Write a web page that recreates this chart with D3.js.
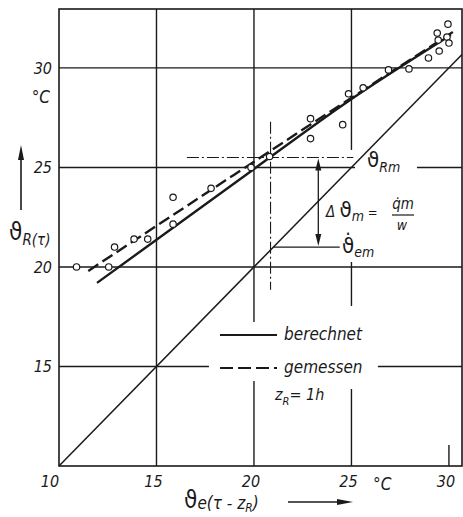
<!DOCTYPE html>
<html>
<head>
<meta charset="utf-8">
<script src="https://cdn.jsdelivr.net/npm/d3@7"></script>
<style>
  body { margin: 0; background: #fff; }
  svg { display: block; }
  text { font-family: "DejaVu Sans Condensed", "Liberation Sans Narrow", sans-serif; font-style: italic; fill: #1a1a1a; }
</style>
</head>
<body>
<svg id="chart" width="463" height="517"></svg>
<script>
// DATA
const xTicks = [10, 15, 20, 25, 30];
const yTicks = [15, 20, 25, 30];

// measured points (gemessen)
const measX = [10.9, 12.55, 12.85, 13.85, 14.55, 15.85, 15.85, 17.8, 19.85, 20.8, 22.9, 22.9, 24.55, 24.85, 25.6, 26.9, 27.95, 28.95, 29.5, 29.4, 29.45, 29.9, 30.0, 29.95];
const measY = [20.0, 20.0, 21.0, 21.4, 21.4, 23.5, 22.15, 23.95, 25.0, 25.55, 26.45, 27.45, 27.15, 28.7, 29.0, 29.9, 29.95, 30.5, 30.85, 31.75, 31.4, 31.55, 31.25, 32.2];

// computed line (berechnet)
const calcX = [11.95, 19.9, 24.8, 30.1];
const calcY = [19.2, 24.85, 28.3, 31.65];

// measured trend line (gemessen)
const fitX = [11.5, 18, 25, 30.2];
const fitY = [19.8, 24.0, 28.5, 31.8];

// construction for the mean values
const thetaRm = 25.5;
const thetaEm = 21.0;
const tauX = 20.85;
const arrowX = 23.3;

const canvas = d3.select("#chart");

const x = d3.scaleLinear().domain([10, 30.67]).range([59, 462]);
const y = d3.scaleLinear().domain([10, 32.96]).range([466, 9]);

const ink = "#1a1a1a";

// GRID (with the gaps of the original drawing)
const g = canvas.append("g").attr("stroke", ink).attr("fill", "none");

const vGrid = [
  { v: 15, parts: [[10, 32.96]] },
  { v: 20, parts: [[10, 14.27], [17.24, 32.96]] },
  { v: 25, parts: [[10, 13.87], [18.04, 20.25], [25.88, 32.96]] },
  { v: 30, parts: [[10, 11.05]] },
];
const hGrid = [
  { v: 15, parts: [[10, 17.69], [26.36, 30.67]] },
  { v: 20, parts: [[10, 30.67]] },
  { v: 25, parts: [[10, 25.18], [28.36, 30.67]] },
  { v: 30, parts: [[10, 30.67]] },
];

vGrid.forEach((d) =>
  d.parts.forEach((p) =>
    g.append("line")
      .attr("x1", x(d.v)).attr("x2", x(d.v))
      .attr("y1", y(p[0])).attr("y2", y(p[1]))
      .attr("stroke-width", 1.4)
  )
);
hGrid.forEach((d) =>
  d.parts.forEach((p) =>
    g.append("line")
      .attr("y1", y(d.v)).attr("y2", y(d.v))
      .attr("x1", x(p[0])).attr("x2", x(p[1]))
      .attr("stroke-width", 1.4)
  )
);

// frame
g.append("rect")
  .attr("x", x(10)).attr("y", y(32.96))
  .attr("width", x(30.67) - x(10)).attr("height", y(10) - y(32.96))
  .attr("stroke-width", 1.6);

// diagonal
g.append("line")
  .attr("x1", x(10)).attr("y1", y(10))
  .attr("x2", x(30.67)).attr("y2", y(30.67))
  .attr("stroke-width", 1.5);

// CURVES
const line = d3.line().x((d) => x(d[0])).y((d) => y(d[1])).curve(d3.curveMonotoneX);

g.append("path")
  .attr("d", line(d3.zip(calcX, calcY)))
  .attr("stroke-width", 2.4);

g.append("path")
  .attr("d", line(d3.zip(fitX, fitY)))
  .attr("stroke-width", 2.4)
  .attr("stroke-dasharray", "12,5");

// construction lines
g.append("line")
  .attr("x1", x(16.56)).attr("x2", x(25.1))
  .attr("y1", y(thetaRm)).attr("y2", y(thetaRm))
  .attr("stroke-width", 1.1)
  .attr("stroke-dasharray", "12,3,2,3");
g.append("line")
  .attr("x1", x(tauX)).attr("x2", x(tauX))
  .attr("y1", y(27.3)).attr("y2", y(18.85))
  .attr("stroke-width", 1.1)
  .attr("stroke-dasharray", "12,3,2,3");
g.append("line")
  .attr("x1", x(thetaEm)).attr("x2", x(24.4))
  .attr("y1", y(thetaEm)).attr("y2", y(thetaEm))
  .attr("stroke-width", 1.3);

// double arrow Δϑm
g.append("line")
  .attr("x1", x(arrowX)).attr("x2", x(arrowX))
  .attr("y1", y(thetaRm) + 6).attr("y2", y(thetaEm) - 6)
  .attr("stroke-width", 1.3);
const head = (tipY, dir) =>
  `M${x(arrowX)},${tipY} L${x(arrowX) - 3},${tipY + dir * 12} L${x(arrowX) + 3},${tipY + dir * 12} Z`;
canvas.append("path").attr("d", head(y(thetaRm) + 1, 1)).attr("fill", ink);
canvas.append("path").attr("d", head(y(thetaEm) - 1, -1)).attr("fill", ink);

// POINTS
canvas.append("g")
  .selectAll("circle")
  .data(d3.zip(measX, measY))
  .join("circle")
  .attr("cx", (d) => x(d[0]))
  .attr("cy", (d) => y(d[1]))
  .attr("r", 3.2)
  .attr("fill", "#fff")
  .attr("stroke", ink)
  .attr("stroke-width", 1.2);

// AXIS LABELS
canvas.append("g")
  .selectAll("text")
  .data(yTicks)
  .join("text")
  .attr("x", 52)
  .attr("y", (d) => y(d) + 6)
  .attr("text-anchor", "end")
  .attr("font-size", 16)
  .text((d) => d);

canvas.append("g")
  .selectAll("text")
  .data(xTicks)
  .join("text")
  .attr("x", (d, i) => x(d) - (i === 0 ? 9 : 3))
  .attr("y", 487)
  .attr("text-anchor", "middle")
  .attr("font-size", 16)
  .text((d) => d);

canvas.append("text").attr("x", 50).attr("y", 103).attr("text-anchor", "end")
  .attr("font-size", 17).text("°C");
canvas.append("text").attr("x", 373).attr("y", 490)
  .attr("font-size", 17).text("°C");

// y title
const yt = canvas.append("text").attr("x", 9).attr("y", 240);
yt.append("tspan").attr("font-size", 24).attr("font-style", "normal").text("ϑ");
yt.append("tspan").attr("font-size", 15).attr("dy", 5).text("R(τ)");
canvas.append("line").attr("x1", 21).attr("x2", 21).attr("y1", 210).attr("y2", 156)
  .attr("stroke", ink).attr("stroke-width", 1.6);
canvas.append("path").attr("d", "M21,145 L18,160 L24,160 Z").attr("fill", ink);

// x title
const xt = canvas.append("text").attr("x", 184).attr("y", 508);
xt.append("tspan").attr("font-size", 24).attr("font-style", "normal").text("ϑ");
xt.append("tspan").attr("font-size", 17).attr("dy", 1).text("e(τ - z");
xt.append("tspan").attr("font-size", 12).attr("dy", 3).text("R");
xt.append("tspan").attr("font-size", 17).attr("dy", -3).text(")");
canvas.append("line").attr("x1", 288).attr("x2", 340).attr("y1", 502).attr("y2", 502)
  .attr("stroke", ink).attr("stroke-width", 1.6);
canvas.append("path").attr("d", "M353,502 L337,499 L337,505 Z").attr("fill", ink);

// annotations
const rm = canvas.append("text").attr("x", 367).attr("y", 167);
rm.append("tspan").attr("font-size", 22).attr("font-style", "normal").text("ϑ");
rm.append("tspan").attr("font-size", 14).attr("dy", 5).text("Rm");

const dm = canvas.append("text").attr("x", 326).attr("y", 217);
dm.append("tspan").attr("font-size", 15).text("Δ ");
dm.append("tspan").attr("font-size", 22).attr("font-style", "normal").text("ϑ");
dm.append("tspan").attr("font-size", 14).attr("dy", 4).text("m");
dm.append("tspan").attr("font-size", 13).attr("dy", -4).text(" =");
canvas.append("text").attr("x", 403).attr("y", 209).attr("text-anchor", "middle")
  .attr("font-size", 15).text("q\u0307m");
canvas.append("line").attr("x1", 392).attr("x2", 414).attr("y1", 215).attr("y2", 215)
  .attr("stroke", ink).attr("stroke-width", 1.2);
canvas.append("text").attr("x", 402).attr("y", 230).attr("text-anchor", "middle")
  .attr("font-size", 14).text("w");

const em = canvas.append("text").attr("x", 342).attr("y", 253);
em.append("tspan").attr("font-size", 22).attr("font-style", "normal").text("ϑ\u0307");
em.append("tspan").attr("font-size", 14).attr("dy", 4).text("em");

// legend
canvas.append("line").attr("x1", 220).attr("x2", 277).attr("y1", 335).attr("y2", 335)
  .attr("stroke", ink).attr("stroke-width", 2.2);
canvas.append("line").attr("x1", 220).attr("x2", 277).attr("y1", 368).attr("y2", 368)
  .attr("stroke", ink).attr("stroke-width", 2.2).attr("stroke-dasharray", "13,5");
canvas.append("text").attr("x", 284).attr("y", 340).attr("font-size", 17).text("berechnet");
canvas.append("text").attr("x", 284).attr("y", 373).attr("font-size", 17).text("gemessen");
const zr = canvas.append("text").attr("x", 275).attr("y", 400);
zr.append("tspan").attr("font-size", 16).text("z");
zr.append("tspan").attr("font-size", 11).attr("dy", 5).text("R");
zr.append("tspan").attr("font-size", 16).attr("dy", -5).text("= 1h");
</script>
</body>
</html>
